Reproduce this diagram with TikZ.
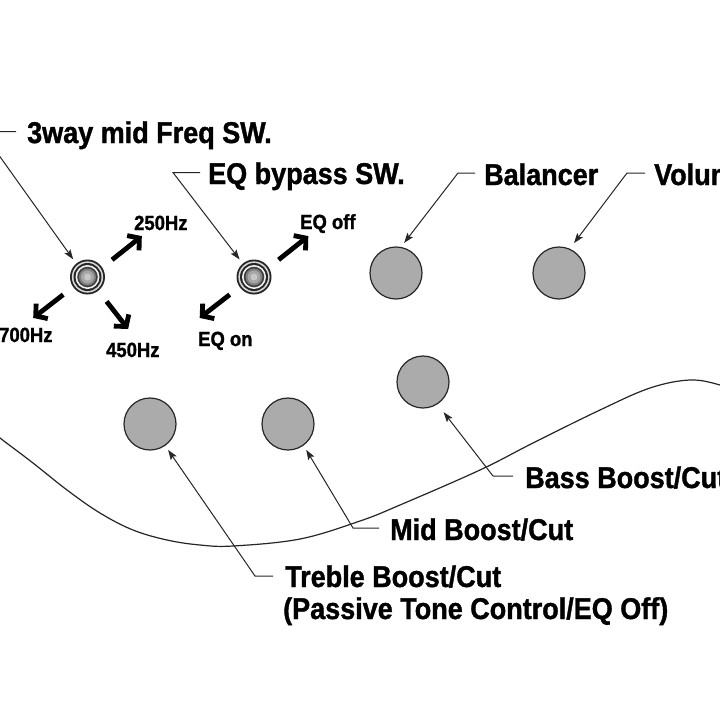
\documentclass[tikz,border=0pt]{standalone}
\usepackage{fontspec}
\newfontfamily\labelfont{Liberation Sans}[FakeStretch=0.9,BoldFeatures={FakeBold=1.2}]
\usetikzlibrary{arrows.meta}

\begin{document}
\begin{tikzpicture}[x=1pt,y=-1pt,
  lbl/.style={anchor=base west,inner sep=0pt,font=\labelfont\bfseries\fontsize{30}{32}\selectfont},
  small/.style={anchor=base west,inner sep=0pt,font=\labelfont\bfseries\fontsize{20.5}{22}\selectfont},
  knob/.style={circle,draw=black!85,line width=1.2pt,fill=black!33,minimum size=52pt,inner sep=0pt},
  switch/.style={circle,minimum size=35pt,inner sep=0pt,fill=black!85,
    path picture={
      \foreach \r/\c in {15.6/black!15,14/black!85,12/black!5,10.3/black!75,8.5/black!50,6.5/black!35,3.5/black!22}
        \fill[\c] (path picture bounding box.center) circle (\r pt);
    }},
  lead/.style={line width=1pt,black!85,-{Stealth[length=10pt,width=7pt,inset=2pt]}},
  swarrow/.style={line width=4.8pt,-{Straight Barb[length=8pt,width=19pt]}}]
  \fill[white] (0,0) rectangle (720,720);
  \useasboundingbox (0,0) rectangle (720,720);
  \clip (0,0) rectangle (720,720);

  \draw[line width=1.2pt,black!85] plot[smooth,tension=0.6] coordinates {(-12,428) (0,438) (33,463) (67,490) (100,513) (133,530) (167,540) (200,545) (233,546) (300,539) (360,521) (400,505) (480,470) (533,443) (600,410) (650,388) (690,380) (720,385) (735,392)};

  \node[switch] (sw1) at (87.5,277) {};
  \node[switch] (sw2) at (254,277) {};
  \node[knob] (bal) at (396,273) {};
  \node[knob] (vol) at (559,273) {};
  \node[knob] (bass) at (423,382) {};
  \node[knob] (mid) at (288,424) {};
  \node[knob] (treb) at (150,424) {};

  \node[lbl] (freqsw) at (27,143) {3way mid Freq SW.};
  \node[lbl] (bypass) at (208,184) {EQ bypass SW.};
  \node[lbl] (balancer) at (484,185) {Balancer};
  \node[lbl] (volume) at (654,185) {Volume};
  \node[lbl] (basslbl) at (525,488) {Bass Boost/Cut};
  \node[lbl] (midlbl) at (390,540) {Mid Boost/Cut};
  \node[lbl] (treblbl) at (285,587) {Treble Boost/Cut};
  \node[lbl] (passlbl) at (283,619) {(Passive Tone Control/EQ Off)};

  \node[small] (hz250) at (134,230) {250Hz};
  \node[small] (hz700) at (-1,342) {700Hz};
  \node[small] (hz450) at (106,357) {450Hz};
  \node[small] (eqoff) at (300,229) {EQ off};
  \node[small] (eqon) at (198,346) {EQ on};

  \draw[swarrow] ([shift={(35:30pt)}]sw1.center) -- ([shift={(37:68pt)}]sw1.center);
  \draw[swarrow] ([shift={(216:30pt)}]sw1.center) -- ([shift={(217:68pt)}]sw1.center);
  \draw[swarrow] ([shift={(-52:31pt)}]sw1.center) -- ([shift={(-52:66pt)}]sw1.center);
  \draw[swarrow] ([shift={(35:30pt)}]sw2.center) -- ([shift={(37:68pt)}]sw2.center);
  \draw[swarrow] ([shift={(216:30pt)}]sw2.center) -- ([shift={(217:68pt)}]sw2.center);

  \draw[lead,shorten >=5pt] ([xshift=-11pt,yshift=11.5pt]freqsw.base west) -- ++(-34,0) -- (sw1.130);
  \draw[lead,shorten >=5pt] ([xshift=-8pt,yshift=11.5pt]bypass.base west) -- ++(-27,0) -- (sw2.130);
  \draw[lead,shorten >=5pt] ([xshift=-9pt,yshift=12pt]balancer.base west) -- ++(-17,0) -- (bal.79);
  \draw[lead,shorten >=7pt] ([xshift=-9pt,yshift=12pt]volume.base west) -- ++(-18,0) -- (vol.66);
  \draw[lead,shorten >=10pt] ([xshift=-12pt,yshift=12pt]basslbl.base west) -- ++(-20,0) -- (bass.-57);
  \draw[lead,shorten >=5pt] ([xshift=-11pt,yshift=12pt]midlbl.base west) -- ++(-26,0) -- (mid.-54);
  \draw[lead,shorten >=5pt] ([xshift=-12pt,yshift=11pt]treblbl.base west) -- ++(-18,0) -- (treb.-55);
\end{tikzpicture}
\end{document}
